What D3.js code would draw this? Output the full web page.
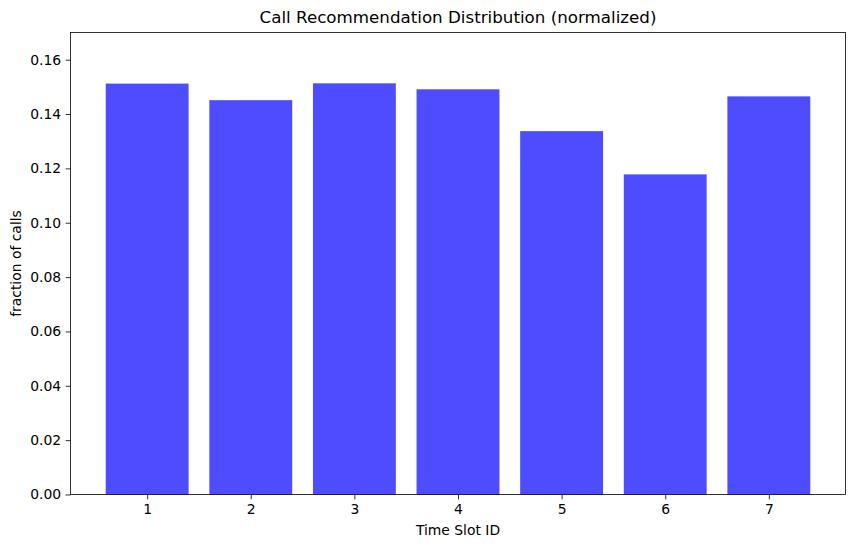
<!DOCTYPE html>
<html><head><meta charset="utf-8">
<script src="https://cdn.jsdelivr.net/npm/d3@7"></script>
<style>body{margin:0;background:#fff}svg{display:block}text{font-family:"DejaVu Sans",sans-serif;fill:#000}</style>
</head><body><svg id="c" width="855" height="547"></svg>
<script>
const slots = [1, 2, 3, 4, 5, 6, 7];
const fractions = [0.1512, 0.1451, 0.1513, 0.1491, 0.1337, 0.1178, 0.1465];
const yTicks = [0.00, 0.02, 0.04, 0.06, 0.08, 0.10, 0.12, 0.14, 0.16];

const svg = d3.select("#c");
const L = 70.5, R = 845.5, T = 32.5, B = 494.5;
const x = d3.scaleLinear().domain([0.26, 7.74]).range([L, R]);
const y = d3.scaleLinear().domain([0, 0.17]).range([B, T]);

svg.append("g").selectAll("rect").data(slots).join("rect")
  .attr("x", (d) => x(d - 0.4)).attr("width", (d) => x(d + 0.4) - x(d - 0.4))
  .attr("y", (d, i) => y(fractions[i])).attr("height", (d, i) => y(0) - y(fractions[i]))
  .attr("fill", "rgb(77,77,255)");

const xa = svg.append("g").attr("transform", `translate(0,${B})`)
  .call(d3.axisBottom(x).tickValues(slots).tickFormat(d3.format("d")).tickSize(4.9).tickPadding(4.5));
const ya = svg.append("g").attr("transform", `translate(${L},0)`)
  .call(d3.axisLeft(y).tickValues(yTicks).tickFormat(d3.format(".2f")).tickSize(4.9).tickPadding(4.5));
[xa, ya].forEach(g => {
  g.select(".domain").remove();
  g.selectAll("line").attr("stroke", "#000").attr("stroke-width", 0.8);
  g.selectAll("text").attr("font-size", "13.9px").attr("font-family", "DejaVu Sans");
});
svg.append("rect").attr("x", L).attr("y", T).attr("width", R - L).attr("height", B - T)
  .attr("fill", "none").attr("stroke", "#000").attr("stroke-width", 0.8);

svg.append("text").attr("x", (L + R) / 2).attr("y", 23).attr("text-anchor", "middle")
  .attr("font-size", "16.7px").text("Call Recommendation Distribution (normalized)");
svg.append("text").attr("x", (L + R) / 2).attr("y", 535).attr("text-anchor", "middle")
  .attr("font-size", "13.9px").text("Time Slot ID");
svg.append("text").attr("transform", `translate(21,${(T + B) / 2}) rotate(-90)`).attr("text-anchor", "middle")
  .attr("font-size", "13.9px").text("fraction of calls");
</script></body></html>
